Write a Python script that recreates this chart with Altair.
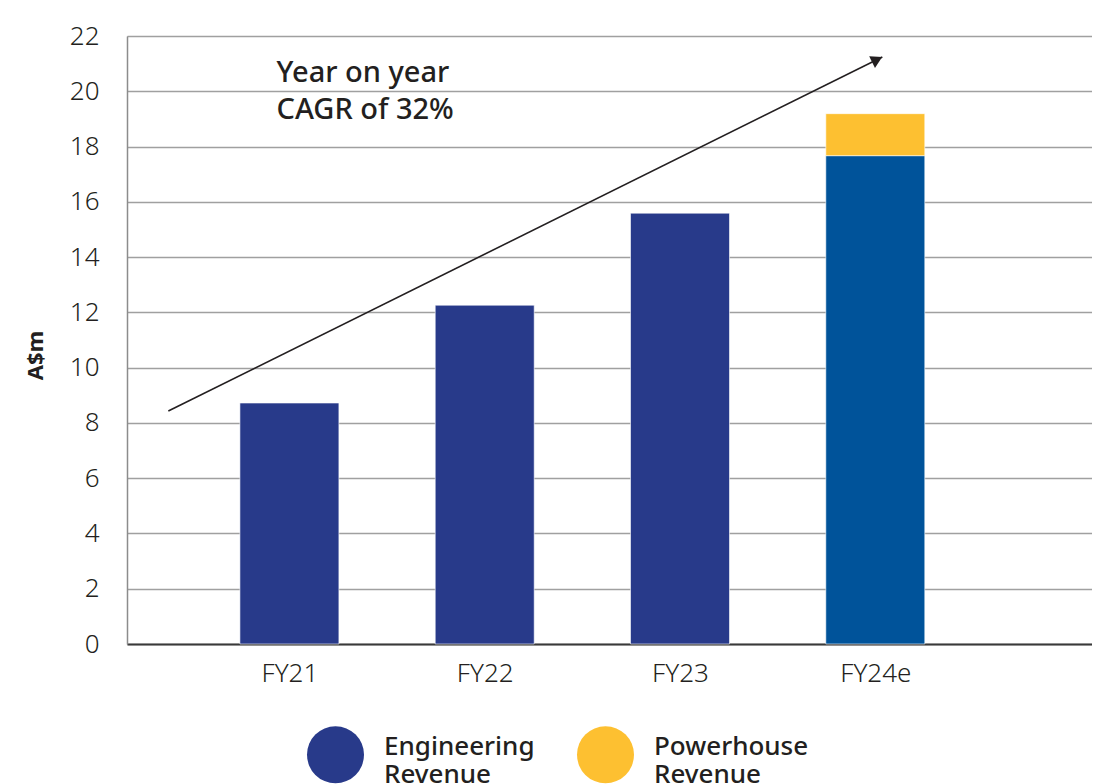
import altair as alt
import pandas as pd

# ---- data ----
categories = ["FY21", "FY22", "FY23", "FY24e"]
engineering = [8.72, 12.26, 15.59, 17.67]
powerhouse = [0.0, 0.0, 0.0, 1.52]
series_names = ["Engineering Revenue", "Powerhouse Revenue", "Engineering Revenue (FY24e)"]
series_colors = ["#283a8a", "#fdc031", "#00539a"]

y_ticks = list(range(0, 23, 2))

annot_lines = ["Year on year", "CAGR of 32%"]
annot_x = [-0.066, -0.066]
annot_y = [20.33, 18.99]

arrow_x = [-0.62, 3.036]
arrow_y = [8.43, 21.24]

FONT = "Noto Sans"
TXT = "#231f20"

rows = []
for i, c in enumerate(categories):
    eng_series = series_names[2] if c == "FY24e" else series_names[0]
    rows.append({"cat": c, "pos": i, "series": eng_series, "value": engineering[i], "ord": 0})
    if powerhouse[i] > 0:
        rows.append({"cat": c, "pos": i, "series": series_names[1], "value": powerhouse[i], "ord": 1})
bar_df = pd.DataFrame(rows)

label_arr = "[" + ",".join("'%s'" % c for c in categories) + "]"

xscale = alt.Scale(domain=[-0.806, 4.084], nice=False, zero=False)
yscale = alt.Scale(domain=[0, 22], nice=False)

bars = alt.Chart(bar_df).mark_bar(width=99, stroke="white", strokeWidth=0.6).encode(
    x=alt.X("pos:Q", scale=xscale,
            axis=alt.Axis(values=list(range(len(categories))),
                          labelExpr=label_arr + "[datum.value]",
                          title=None, grid=False, ticks=False,
                          domainColor="#3a3a3a", domainWidth=2,
                          labelFontSize=26, labelFont=FONT, labelColor=TXT,
                          labelPadding=16, labelFontWeight=300)),
    y=alt.Y("value:Q", stack="zero", scale=yscale,
            axis=alt.Axis(values=y_ticks, title="A$m", ticks=False,
                          domainColor="#8c8c8c", domainWidth=1.5,
                          gridColor="#a0a0a0", gridWidth=1.3,
                          labelFontSize=26, labelFont=FONT, labelColor=TXT,
                          labelPadding=28, labelFontWeight=300,
                          titleFont=FONT, titleFontSize=22, titleFontWeight="bold",
                          titleColor=TXT, titleAngle=270, titleX=-92, titleY=319,
                          titleAlign="center", titleBaseline="middle")),
    color=alt.Color("series:N",
                    scale=alt.Scale(domain=series_names, range=series_colors),
                    legend=alt.Legend(values=series_names[:2], title=None,
                                      orient="none", legendX=180, legendY=690,
                                      direction="horizontal",
                                      symbolType="circle", symbolSize=3249,
                                      symbolStrokeWidth=0, symbolOpacity=1,
                                      labelExpr="split(datum.label, ' ')",
                                      labelBaseline="alphabetic",
                                      labelFont=FONT, labelFontSize=26,
                                      labelFontWeight=500, labelColor=TXT,
                                      labelOffset=20, labelLimit=0,
                                      columnPadding=42, padding=0)),
    order=alt.Order("ord:Q"),
)

arrow_df = pd.DataFrame({"ax": arrow_x, "ay": arrow_y})
arrow_line = alt.Chart(arrow_df).mark_line(color=TXT, strokeWidth=1.6).encode(
    x=alt.X("ax:Q", scale=xscale), y=alt.Y("ay:Q", scale=yscale)
)
head_df = arrow_df.tail(1)
arrow_head = alt.Chart(head_df).mark_point(
    shape="triangle-up", filled=True, color=TXT, opacity=1, size=170,
    angle=63.6, xOffset=-5.2, yOffset=2.6
).encode(x=alt.X("ax:Q", scale=xscale), y=alt.Y("ay:Q", scale=yscale))

text_df = pd.DataFrame({"t": annot_lines, "tx": annot_x, "ty": annot_y})
annot = alt.Chart(text_df).mark_text(
    align="left", baseline="alphabetic", fontSize=29, fontWeight=500,
    font=FONT, color=TXT
).encode(x=alt.X("tx:Q", scale=xscale), y=alt.Y("ty:Q", scale=yscale), text="t:N")

chart = alt.layer(bars, arrow_line, arrow_head, annot).properties(
    width=965, height=608,
    autosize=alt.AutoSizeParams(type="none"),
    padding={"left": 119, "top": 28, "right": 0, "bottom": 140},
).configure_view(stroke=None).configure(background="white")

chart.save("out.html", embed_options={"renderer": "svg", "actions": False})
